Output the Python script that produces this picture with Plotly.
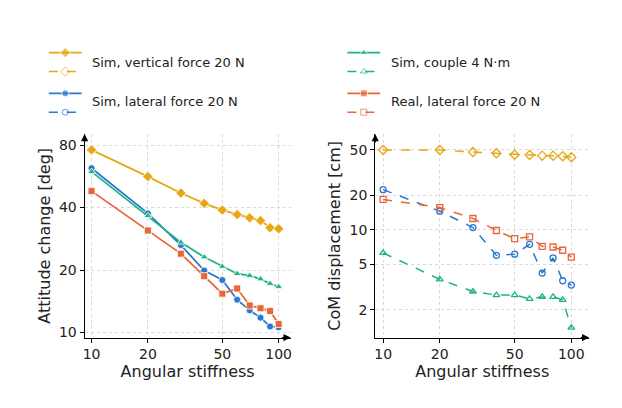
import plotly.graph_objects as go

k = [10, 20, 30, 40, 50, 60, 70, 80, 90, 100]
att_vert = [75.8, 56.4, 47.0, 41.9, 38.9, 37.0, 35.7, 34.6, 32.0, 31.6]
att_lat = [61.9, 37.5, 26.4, 19.9, 17.9, 14.4, 12.8, 11.8, 10.7, 10.6]
att_couple = [59.6, 36.5, 27.2, 23.1, 20.8, 19.2, 18.8, 18.1, 17.2, 16.6]
att_real = [48.0, 31.0, 24.0, 18.7, 15.4, 16.3, 13.5, 13.1, 12.7, 11.0]
com_vert = [50, 50, 48.0, 46.8, 45.5, 45.2, 44.6, 44.6, 44.1, 43.2]
com_lat = [22.5, 14.6, 10.5, 6.0, 6.15, 7.5, 4.2, 5.7, 3.6, 3.3]
com_couple = [6.3, 3.7, 2.9, 2.7, 2.7, 2.5, 2.6, 2.6, 2.45, 1.4]
com_real = [18.5, 15.7, 12.6, 9.9, 8.4, 8.7, 7.2, 7.1, 6.65, 5.8]

YEL, BLU, GRN, RED = "#e6a817", "#2a78d0", "#1fb386", "#e8663a"
series = [
    ("Sim, vertical force 20 N", YEL, "diamond", att_vert, com_vert),
    ("Sim, lateral force 20 N", BLU, "circle", att_lat, com_lat),
    ("Sim, couple 4 N·m", GRN, "triangle-up", att_couple, com_couple),
    ("Real, lateral force 20 N", RED, "square", att_real, com_real),
]
msz = {"diamond": 8, "circle": 7, "triangle-up": 7, "square": 7}
OFF = 8  # page offset in px
W, H = 622, 408
def px(x): return (x - OFF) / W
def py(y): return 1 - (y - OFF) / H

fig = go.Figure()
for name, c, sym, a, cm in series:
    fig.add_trace(go.Scatter(x=k, y=a, mode="lines+markers", xaxis="x", yaxis="y",
                             line=dict(color=c, width=1.8),
                             marker=dict(symbol=sym, size=msz[sym], color=c, line=dict(color="white", width=0.8)),
                             showlegend=False))
    fig.add_trace(go.Scatter(x=k, y=cm, mode="lines+markers", xaxis="x2", yaxis="y2",
                             line=dict(color=c, width=1.5, dash="dash"),
                             marker=dict(symbol=sym + "-open", size=msz[sym] - 1, color=c, line=dict(width=1.3)),
                             showlegend=False))

leg = [(47, 53, 88, 63, 0), (47, 94, 88, 102, 1), (347, 53, 389, 63, 2), (347, 94, 389, 102, 3)]
ann = []
for x0, y0, tx, ty, i in leg:
    name, c, sym, _, _ = series[i]
    fig.add_trace(go.Scatter(x=[x0, x0 + 16.5, x0 + 33], y=[y0] * 3, mode="lines+markers", xaxis="x3", yaxis="y3",
                             line=dict(color=c, width=1.8), marker=dict(symbol=sym, size=[0, msz[sym], 0], color=c),
                             showlegend=False, hoverinfo="skip"))
    fig.add_trace(go.Scatter(x=[x0, x0 + 16.5, x0 + 33], y=[y0 + 19] * 3, mode="lines+markers", xaxis="x3", yaxis="y3",
                             line=dict(color=c, width=1.5, dash="dash"),
                             marker=dict(symbol=sym + "-open", size=[0, msz[sym] - 1, 0], color=c),
                             showlegend=False, hoverinfo="skip"))
    ann.append(dict(x=tx, y=ty, xref="x3", yref="y3", text=name, showarrow=False, xanchor="left",
                    font=dict(size=13, color="#222")))

for ax0, ax1, ay0, ay1 in [(83, 290, 340, 135), (375, 590, 340, 135)]:
    ann.append(dict(x=ax1, y=ay0, ax=ax1 - 10, ay=ay0, xref="x3", yref="y3", axref="x3", ayref="y3",
                    showarrow=True, arrowhead=2, arrowsize=1.2, arrowwidth=1.2, arrowcolor="black", text=""))
    ann.append(dict(x=ax0, y=ay1, ax=ax0, ay=ay1 + 10, xref="x3", yref="y3", axref="x3", ayref="y3",
                    showarrow=True, arrowhead=2, arrowsize=1.2, arrowwidth=1.2, arrowcolor="black", text=""))
ann.append(dict(x=-6, y=8, xref="x3", yref="y3", text="linear stiffness of its arm in N/m, axes in log scale.",
                showarrow=False, xanchor="left", yanchor="middle",
                font=dict(family="Liberation Serif", size=17, color="black")))

ax_common = dict(type="log", showline=True, linecolor="black", linewidth=1.2, ticks="outside",
                 ticklen=4, tickcolor="black", showgrid=True, gridcolor="#d8d8d8", griddash="dot",
                 zeroline=False, tickfont=dict(size=14, color="#222"), title_font=dict(size=16, color="#222"))
fig.update_layout(
    width=W, height=H, margin=dict(l=0, r=0, t=0, b=0),
    paper_bgcolor="white", plot_bgcolor="rgba(0,0,0,0)",
    font=dict(family="DejaVu Sans"),
    xaxis=dict(ax_common, domain=[px(83), px(290)], range=[0.963, 2.064], tickvals=[10, 20, 50, 100],
               ticktext=["10", "20", "50", "100"], anchor="y", title=dict(text="Angular stiffness", standoff=2)),
    yaxis=dict(ax_common, domain=[py(340), py(135)], range=[0.976, 1.956], tickvals=[10, 20, 40, 80],
               ticktext=["10", "20", "40", "80"], anchor="x", title=dict(text="Attitude change [deg]", standoff=4)),
    xaxis2=dict(ax_common, domain=[px(375), px(590)], range=[0.958, 2.095], tickvals=[10, 20, 50, 100],
                ticktext=["10", "20", "50", "100"], anchor="y2", title=dict(text="Angular stiffness", standoff=2)),
    yaxis2=dict(ax_common, domain=[py(340), py(135)], range=[0.060, 1.838], tickvals=[2, 5, 10, 20, 50],
                ticktext=["2", "5", "10", "20", "50"], anchor="x2", title=dict(text="CoM displacement [cm]", standoff=4)),
    xaxis3=dict(domain=[0, 1], range=[OFF, OFF + W], visible=False, anchor="y3"),
    yaxis3=dict(domain=[0, 1], range=[OFF + H, OFF], visible=False, anchor="x3"),
    annotations=ann,
)
fig.write_html("out.html")
